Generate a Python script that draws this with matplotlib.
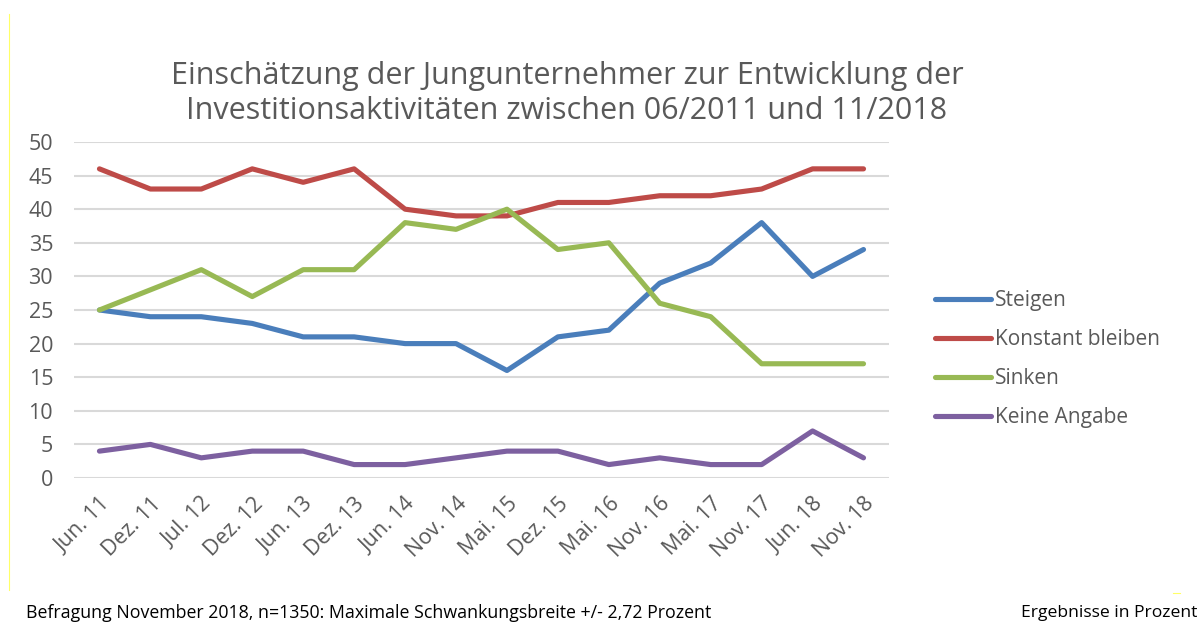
import matplotlib.pyplot as plt
from matplotlib.lines import Line2D

plt.rcParams['font.family'] = ['Open Sans', 'DejaVu Sans']

# survey dates
categories = ['Jun. 11', 'Dez. 11', 'Jul. 12', 'Dez. 12', 'Jun. 13', 'Dez. 13',
              'Jun. 14', 'Nov. 14', 'Mai. 15', 'Dez. 15', 'Mai. 16', 'Nov. 16',
              'Mai. 17', 'Nov. 17', 'Jun. 18', 'Nov. 18']

steigen = [25, 24, 24, 23, 21, 21, 20, 20, 16, 21, 22, 29, 32, 38, 30, 34]
konstant = [46, 43, 43, 46, 44, 46, 40, 39, 39, 41, 41, 42, 42, 43, 46, 46]
sinken = [25, 28, 31, 27, 31, 31, 38, 37, 40, 34, 35, 26, 24, 17, 17, 17]
keine_angabe = [4, 5, 3, 4, 4, 2, 2, 3, 4, 4, 2, 3, 2, 2, 7, 3]

series_names = ['Steigen', 'Konstant bleiben', 'Sinken', 'Keine Angabe']
series_colors = ['#4a7ebb', '#be4b48', '#98b954', '#7d60a0']
y_ticks = [0, 5, 10, 15, 20, 25, 30, 35, 40, 45, 50]

fig = plt.figure(figsize=(12.01, 6.26), dpi=100)
ax = fig.add_axes([0.0616, 0.2364, 0.6786, 0.5368])

x = list(range(len(categories)))
for values, name, col in zip([steigen, konstant, sinken, keine_angabe],
                             series_names, series_colors):
    ax.plot(x, values, color=col, linewidth=3.7, label=name,
            solid_joinstyle='round', solid_capstyle='round')

ax.set_xlim(-0.5, len(categories) - 0.5)
ax.set_ylim(0, 50)
ax.set_yticks(y_ticks)
ax.set_xticks(x)
ax.set_xticklabels(categories, rotation=45, ha='right', rotation_mode='anchor')
ax.tick_params(axis='both', length=0, labelsize=15.5, colors='#595959')
ax.tick_params(axis='y', pad=15)
ax.tick_params(axis='x', pad=11)
ax.grid(axis='y', color='#d9d9d9', linewidth=1.5)
ax.set_axisbelow(True)
for s in ax.spines.values():
    s.set_visible(False)

fig.text(0.472, 0.851, 'Einschätzung der Jungunternehmer zur Entwicklung der\n'
         'Investitionsaktivitäten zwischen 06/2011 und 11/2018',
         ha='center', va='center', fontsize=22, color='#595959', linespacing=1.2)

leg = ax.legend(loc='center left', bbox_to_anchor=(935 / 1201, 1 - 359 / 626),
                bbox_transform=fig.transFigure, frameon=False, fontsize=15,
                handlelength=2.7, labelspacing=0.86, handletextpad=0.2,
                borderpad=0, borderaxespad=0)
for t in leg.get_texts():
    t.set_color('#595959')

fig.text(0.022, 0.021, 'Befragung November 2018, n=1350: Maximale Schwankungsbreite +/- 2,72 Prozent',
         ha='left', va='center', fontsize=12.8, color='black')
fig.text(0.997, 0.021, 'Ergebnisse in Prozent', ha='right', va='center',
         fontsize=12.6, color='black')

# thin yellow frame marks from the source image
fig.add_artist(Line2D([0.0075, 0.0075], [1 - 14 / 626, 1 - 590 / 626],
                      color='#ffff66', linewidth=0.8, transform=fig.transFigure))
fig.add_artist(Line2D([1173 / 1201, 1180 / 1201], [1 - 593 / 626, 1 - 593 / 626],
                      color='#ffff66', linewidth=0.8, transform=fig.transFigure))

fig.savefig('out.png', dpi=100)
